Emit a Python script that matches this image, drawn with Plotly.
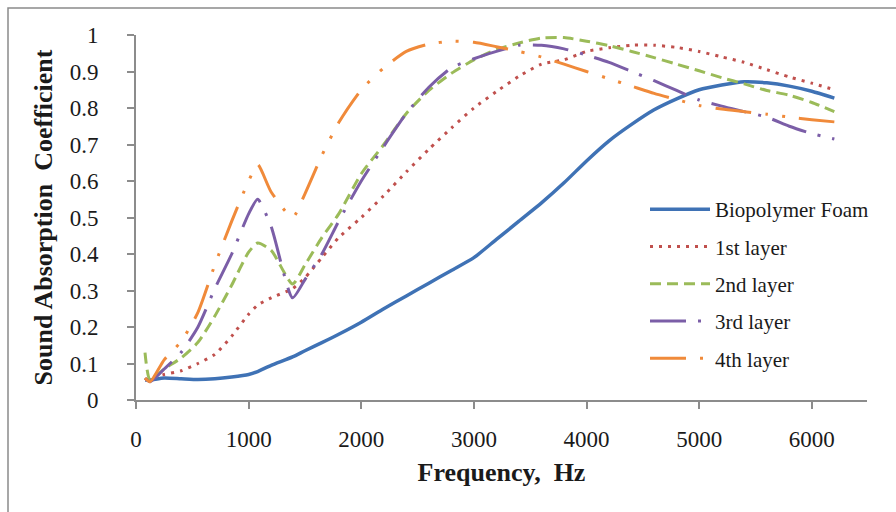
import plotly.graph_objects as go

# ---------------- data ----------------
freq = [80, 125, 250, 400, 550, 700, 850, 1000, 1080, 1200, 1390, 1500, 1650, 1800,
        2000, 2200, 2400, 2600, 2800, 3000, 3200, 3400, 3600, 3800, 4000, 4200, 4400,
        4600, 4800, 5000, 5200, 5400, 5600, 5800, 6000, 6200]

biopolymer_foam = [0.055, 0.055, 0.060, 0.058, 0.056, 0.058, 0.063, 0.070, 0.078, 0.095,
                   0.118, 0.135, 0.157, 0.180, 0.213, 0.250, 0.285, 0.320, 0.355, 0.390,
                   0.440, 0.490, 0.540, 0.595, 0.655, 0.710, 0.755, 0.795, 0.825, 0.850,
                   0.863, 0.872, 0.869, 0.860, 0.846, 0.827]

layer1 = [0.055, 0.060, 0.070, 0.080, 0.100, 0.125, 0.175, 0.235, 0.260, 0.280,
          0.305, 0.335, 0.390, 0.445, 0.500, 0.560, 0.625, 0.687, 0.745, 0.800,
          0.845, 0.887, 0.920, 0.932, 0.955, 0.965, 0.972, 0.972, 0.966, 0.955,
          0.940, 0.925, 0.905, 0.885, 0.868, 0.850]

layer2 = [0.130, 0.055, 0.085, 0.115, 0.158, 0.230, 0.315, 0.405, 0.430, 0.410,
          0.318, 0.370, 0.445, 0.510, 0.620, 0.700, 0.785, 0.848, 0.895, 0.932,
          0.960, 0.978, 0.992, 0.993, 0.983, 0.971, 0.955, 0.938, 0.920, 0.902,
          0.883, 0.866, 0.848, 0.835, 0.815, 0.790]

layer3 = [0.060, 0.050, 0.085, 0.130, 0.200, 0.305, 0.400, 0.510, 0.550, 0.475,
          0.280, 0.330, 0.400, 0.490, 0.600, 0.695, 0.785, 0.857, 0.910, 0.935,
          0.955, 0.972, 0.972, 0.962, 0.945, 0.925, 0.900, 0.875, 0.848, 0.822,
          0.805, 0.790, 0.775, 0.750, 0.730, 0.715]

layer4 = [0.060, 0.050, 0.110, 0.160, 0.240, 0.370, 0.490, 0.600, 0.645, 0.570,
          0.500, 0.565, 0.670, 0.760, 0.850, 0.910, 0.955, 0.975, 0.983, 0.980,
          0.968, 0.955, 0.940, 0.920, 0.900, 0.880, 0.860, 0.840, 0.823, 0.807,
          0.797, 0.790, 0.783, 0.775, 0.768, 0.762]

series_names = ["Biopolymer Foam", "1st layer", "2nd layer", "3rd layer", "4th layer"]
series_values = [biopolymer_foam, layer1, layer2, layer3, layer4]

x_ticks = [0, 1000, 2000, 3000, 4000, 5000, 6000]
y_ticks = [0, 0.1, 0.2, 0.3, 0.4, 0.5, 0.6, 0.7, 0.8, 0.9, 1]
y_tick_text = ["0", "0.1", "0.2", "0.3", "0.4", "0.5", "0.6", "0.7", "0.8", "0.9", "1"]

# ---------------- styles ----------------
colors = ["#3F72B5", "#C0504D", "#9BBB59", "#7B5EA7", "#F08A3A"]
dashes = ["solid", "3px,6px", "11px,6px", "36px,12px,3px,12px", "36px,14px,3px,14px,3px,14px"]
widths = [3.5, 3, 3, 3, 3]

FONT = "Liberation Serif, Times New Roman, serif"

fig = go.Figure()
for i, (name, vals) in enumerate(zip(series_names, series_values)):
    fig.add_trace(go.Scatter(
        x=freq, y=vals, name=name, mode="lines",
        line=dict(color=colors[i], width=widths[i], dash=dashes[i], shape="spline", smoothing=0.6),
        legendgroup=f"g{i}",
    ))

W, H = 896, 512
L, R, T, B = 136, 29, 35, 112
pw, ph = W - L - R, H - T - B

def px_x(p):
    return (p - L) / pw

def px_y(p):
    return (H - B - p) / ph

fig.update_layout(
    width=W, height=H,
    margin=dict(l=L, r=R, t=T, b=B, autoexpand=False),
    paper_bgcolor="white", plot_bgcolor="white",
    font=dict(family=FONT, color="#1a1a1a"),
    showlegend=True,
    legend=dict(
        x=px_x(645), y=px_y(189), xanchor="left", yanchor="top",
        font=dict(family=FONT, size=21, color="#1a1a1a"),
        bgcolor="rgba(255,255,255,0)", itemwidth=60, tracegroupgap=7,
        traceorder="grouped",
    ),
    xaxis=dict(
        range=[0, 6490], tickvals=x_ticks, ticktext=[str(v) for v in x_ticks],
        showgrid=False, zeroline=False, showline=True, linecolor="#8c8c8c", linewidth=2,
        ticks="outside", ticklen=7, tickcolor="#8c8c8c", tickwidth=1.5,
        tickfont=dict(family=FONT, size=23, color="#1a1a1a"), ticklabelstandoff=10,
        title=dict(text="<b>Frequency,\u00a0 Hz</b>", font=dict(family=FONT, size=26, color="#1a1a1a"), standoff=12),
        automargin=False,
    ),
    yaxis=dict(
        range=[0, 1], tickvals=y_ticks, ticktext=y_tick_text,
        showgrid=False, zeroline=False, showline=True, linecolor="#8c8c8c", linewidth=2,
        ticks="outside", ticklen=7, tickcolor="#8c8c8c", tickwidth=1.5,
        tickfont=dict(family=FONT, size=23, color="#1a1a1a"), ticklabelstandoff=24,
        title=dict(text="<b>Sound Absorption\u00a0 Coefficient</b>", font=dict(family=FONT, size=26, color="#1a1a1a"), standoff=10),
        automargin=False,
    ),
    shapes=[dict(type="rect", xref="paper", yref="paper",
                 x0=px_x(8), y0=px_y(530), x1=px_x(905), y1=px_y(8),
                 line=dict(color="#8a8a8a", width=1.5), fillcolor="rgba(0,0,0,0)", layer="below")],
)

fig.write_html("out.html", config={"displayModeBar": False})

# remove the default page margin so the figure sits at the window origin
with open("out.html", "r", encoding="utf-8") as f:
    html = f.read()
html = html.replace("<head>", "<head><style>html,body{margin:0;padding:0;overflow:hidden;}</style>", 1)
with open("out.html", "w", encoding="utf-8") as f:
    f.write(html)
